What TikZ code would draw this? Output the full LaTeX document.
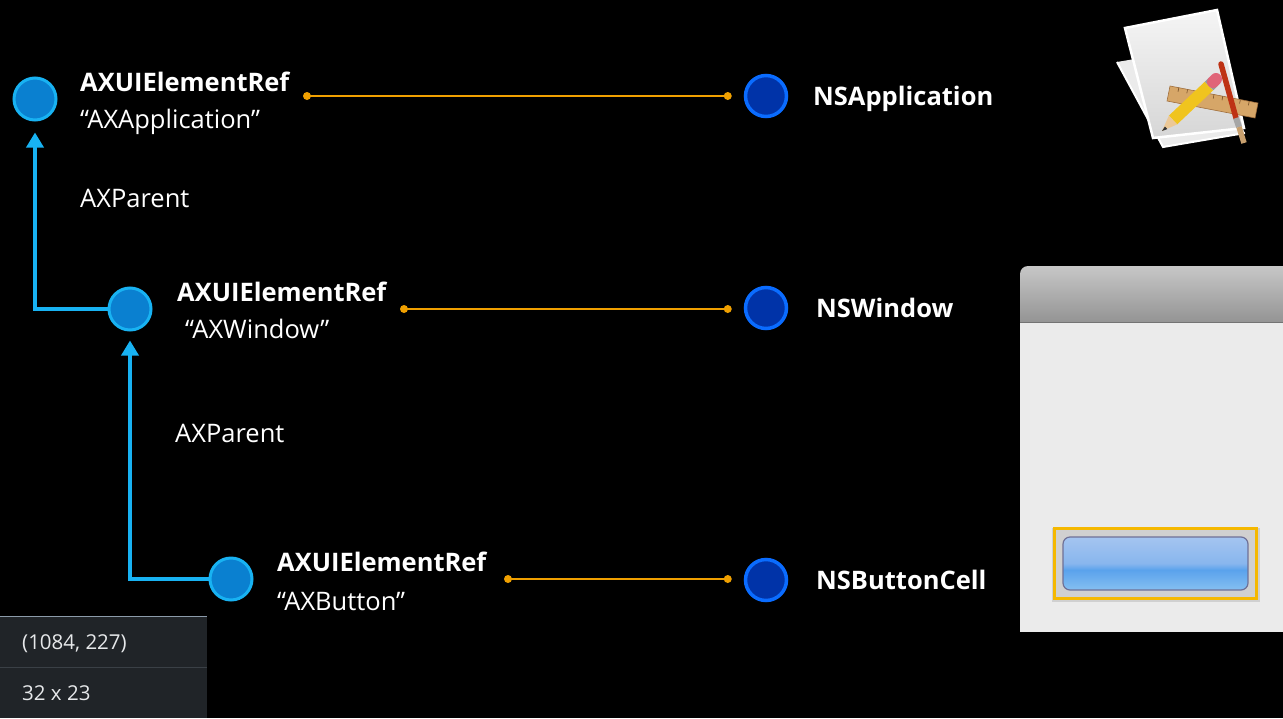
\documentclass[tikz,border=0pt]{standalone}
\usepackage{fontspec}
\setmainfont{Open Sans}
\newfontfamily\panelfont{Open Sans}
\usetikzlibrary{arrows.meta,calc}

\definecolor{axring}{HTML}{18B2F2}
\definecolor{axfill}{HTML}{0A80D0}
\definecolor{nsring}{HTML}{0A6CFF}
\definecolor{nsfill}{HTML}{0033A8}
\definecolor{linkcol}{HTML}{F0A000}
\definecolor{panelbg}{HTML}{202428}
\definecolor{paneltext}{HTML}{E6E8EA}
\definecolor{panelrule}{HTML}{8C9BAA}
\definecolor{paneldiv}{HTML}{3A4046}
\definecolor{hilite}{HTML}{F5B800}
\definecolor{rulerwood}{HTML}{D6A668}
\definecolor{rulerline}{HTML}{A06E3C}
\definecolor{rulertick}{HTML}{785028}
\definecolor{brushred}{HTML}{BE3214}
\definecolor{bristle}{HTML}{C8A06E}
\definecolor{pencilbody}{HTML}{F0C41E}
\definecolor{eraser}{HTML}{E06478}
\definecolor{pencilwood}{HTML}{ECC896}
\definecolor{btnedge}{HTML}{6E7096}
\definecolor{bsA}{HTML}{BCE2F8}
\definecolor{bsB}{HTML}{8CC4F2}
\definecolor{bsC}{HTML}{5AA2EC}
\definecolor{bsD}{HTML}{88B6EE}
\definecolor{bsE}{HTML}{A8C6F0}
\definecolor{bsF}{HTML}{C8D8F4}

\pgfdeclareverticalshading{buttonshade}{100bp}{%
  color(0bp)=(bsA);
  color(22bp)=(bsB);
  color(44bp)=(bsC);
  color(50bp)=(bsD);
  color(78bp)=(bsE);
  color(100bp)=(bsF)}

\tikzset{
  axnode/.style={circle, draw=axring, fill=axfill, line width=3pt, minimum size=42pt, inner sep=0pt},
  nsnode/.style={circle, draw=nsring, fill=nsfill, line width=3.5pt, minimum size=41pt, inner sep=0pt},
  reftitle/.style={anchor=base west, inner sep=0pt, text=white, font=\fontsize{25.5}{30}\selectfont\bfseries},
  refrole/.style={anchor=base west, inner sep=0pt, text=white, font=\fontsize{25.5}{30}\selectfont},
  nstitle/.style={anchor=base west, inner sep=0pt, text=white, font=\fontsize{25.5}{30}\selectfont\bfseries},
  relname/.style={anchor=base west, inner sep=0pt, text=white, font=\fontsize{25.5}{30}\selectfont},
  parentlink/.style={draw=axring, line width=3.5pt, -{Triangle[width=17pt,length=15pt]}},
  bridge/.style={draw=linkcol, line width=2pt},
  bridgedot/.style={circle, fill=linkcol, inner sep=0pt, minimum size=8pt},
  paneltxt/.style={anchor=base west, inner sep=0pt, text=paneltext, font=\panelfont\fontsize{20.5}{24}\selectfont},
}

\begin{document}
\begin{tikzpicture}[x=1pt, y=-1pt]
  \fill[black] (0,0) rectangle (1283,718);
  \useasboundingbox (0,0) rectangle (1283,718);

  % accessibility elements
  \node[axnode] (app) at (35,99) {};
  \node[axnode] (win) at (130,309) {};
  \node[axnode] (btn) at (231,579) {};

  \node[reftitle] (appref) at (80,91)  {AXUIElementRef};
  \node[refrole]  (approle) at (80,128) {“AXApplication”};
  \node[reftitle] (winref) at (177,301) {AXUIElementRef};
  \node[refrole]  (winrole) at (185,338) {“AXWindow”};
  \node[reftitle] (btnref) at (277,571) {AXUIElementRef};
  \node[refrole]  (btnrole) at (277,610) {“AXButton”};

  % AppKit objects
  \node[nsnode] (nsapp) at (766,96) {};
  \node[nsnode] (nswin) at (766,308) {};
  \node[nsnode] (nsbtn) at (766,580) {};

  \node[nstitle] (nsapplabel) at (813,105) {NSApplication};
  \node[nstitle] (nswinlabel) at (816,317) {NSWindow};
  \node[nstitle] (nsbtnlabel) at (816,589) {NSButtonCell};

  % parent relations
  \draw[parentlink] (win.west) -| ([yshift=-11pt]app.south);
  \draw[parentlink] (btn.west) -| ([yshift=-9pt]win.south);
  \node[relname] (p1) at (80,207) {AXParent};
  \node[relname] (p2) at (175,442) {AXParent};

  % bridges between the two worlds
  \coordinate (a1) at (307,96);
  \coordinate (a2) at (404,309);
  \coordinate (a3) at (508,579);
  \coordinate (b1) at ([xshift=-16pt]nsapp.west);
  \coordinate (b2) at ([xshift=-16pt, yshift=-1pt]nswin.west);
  \coordinate (b3) at ([xshift=-16pt, yshift=1pt]nsbtn.west);
  \foreach \i in {1,2,3} {
    \draw[bridge] (a\i) -- (b\i);
    \node[bridgedot] at (a\i) {};
    \node[bridgedot] at (b\i) {};
  }

  % window with its button
  \fill[fill=black!8] (1020,322) rectangle (1283,632);
  \shade[top color=black!22, bottom color=black!42]
    (1020,322) -- (1020,274) arc[start angle=180, end angle=270, radius=8] -- (1283,266) -- (1283,322) -- cycle;
  \draw[black!55, line width=1pt] (1020,322) -- (1283,322);
  \fill[black!25, opacity=0.6] (1052,528) rectangle (1260,602);
  \draw[hilite, line width=3pt] (1054,528) rectangle (1256,598);
  \shade[shading=buttonshade, draw=btnedge, line width=1.2pt, rounded corners=7pt]
    (1063,537) rectangle (1248,590);

  % application icon
  \fill[white!92!black] (1117,62) -- (1163,147) -- (1245,133) -- (1200,48) -- cycle;
  \draw[white, line width=2pt] (1117,62) -- (1163,147) -- (1245,133);
  \shade[top color=white!96!black, bottom color=white!84!black, draw=white, line width=2.5pt]
    (1125,28) -- (1217,10) -- (1244,128) -- (1153,138) -- cycle;
  % ruler
  \fill[fill=rulerwood, draw=rulerline, line width=0.6pt]
    (1170,86) -- (1258,103) -- (1255,118) -- (1167,101) -- cycle;
  \foreach \t in {0.1,0.2,...,0.95} {
    \draw[rulertick, line width=0.6pt] ($(1170,86)!\t!(1258,103)$) -- ++(-0.8,4);
  }
  % paintbrush
  \draw[brushred, line width=5.5pt, line cap=round] (1221,64) -- (1236,118);
  \draw[black!35, line width=6pt] (1236,118) -- (1239,127);
  \draw[bristle, line width=5.5pt] (1239,127) -- (1244,143);
  % pencil
  \draw[pencilbody, line width=12pt] (1173,120) -- (1209,86);
  \draw[black!40, line width=12pt] (1209,86) -- (1213,82);
  \draw[eraser, line width=12pt, line cap=round] (1213,82) -- (1216,79);
  \fill[pencilwood] (1168.9,115.6) -- (1177.1,124.4) -- (1162,131) -- cycle;
  \fill[black!80] (1164.9,126.5) -- (1167.3,129.1) -- (1162,131) -- cycle;

  % coordinate read-out panel
  \fill[panelbg] (0,616) rectangle (207,718);
  \draw[panelrule, line width=1pt] (0,616.5) -- (207,616.5);
  \draw[paneldiv, line width=1pt] (0,667) -- (207,667);
  \node[paneltxt] (pos) at (22,649) {(1084, 227)};
  \node[paneltxt] (size) at (22,700) {32 x 23};
\end{tikzpicture}
\end{document}
